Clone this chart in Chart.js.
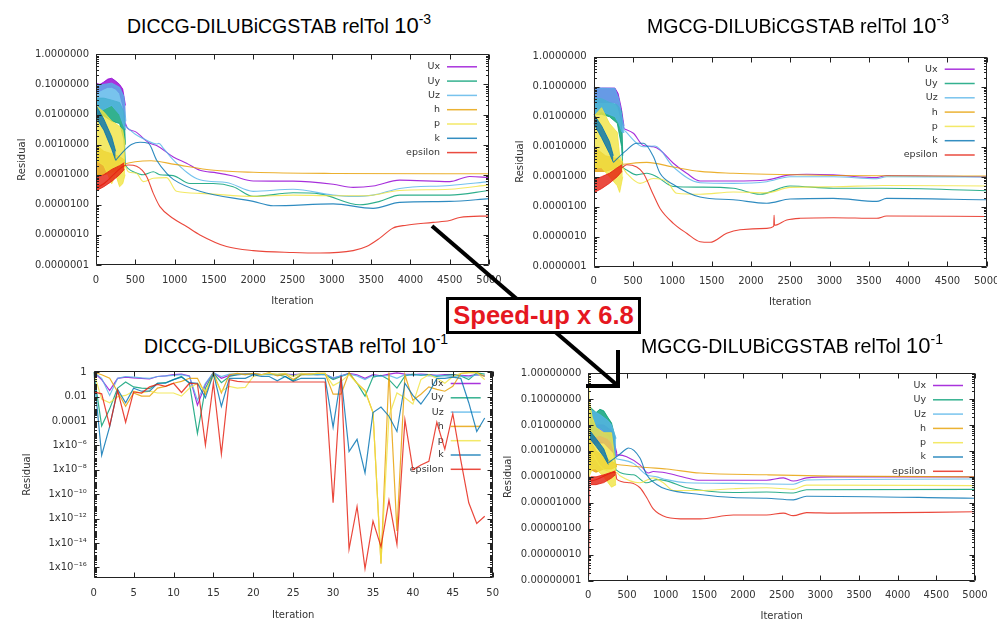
<!DOCTYPE html>
<html><head><meta charset="utf-8">
<script src="https://cdn.jsdelivr.net/npm/chart.js@4.4.1/dist/chart.umd.min.js"></script>
<style>
html,body{margin:0;padding:0;background:#fff;width:997px;height:621px;overflow:hidden;position:relative}
canvas{position:absolute}
.ttl{position:absolute;width:400px;text-align:center;font-family:"Liberation Sans",Arial,sans-serif;font-size:19.5px;line-height:24px;color:#000;white-space:nowrap}
.ttl .n{font-size:22px}
.ttl sup{font-size:14px;vertical-align:9px;line-height:0}
#arrow{position:absolute;left:0;top:0}
#box{position:absolute;left:446px;top:297px;width:195px;height:37px;box-sizing:border-box;border:3px solid #000;background:#fff;color:#e5171f;font:bold 25.6px "Liberation Sans",Arial,sans-serif;text-align:center;line-height:31px;white-space:nowrap}
</style></head><body>
<canvas id="cTL"></canvas>
<canvas id="cTR"></canvas>
<canvas id="cBL"></canvas>
<canvas id="cBR"></canvas>
<div class="ttl" style="left:79px;top:14px">DICCG-DILUBiCGSTAB relTol <span class="n">10<sup>-3</sup></span></div>
<div class="ttl" style="left:598px;top:14px">MGCG-DILUBiCGSTAB relTol <span class="n">10<sup>-3</sup></span></div>
<div class="ttl" style="left:96px;top:334px">DICCG-DILUBiCGSTAB relTol <span class="n">10<sup>-1</sup></span></div>
<div class="ttl" style="left:592px;top:334px">MGCG-DILUBiCGSTAB relTol <span class="n">10<sup>-1</sup></span></div>
<svg id="arrow" width="997" height="621">
<line x1="432" y1="226" x2="617" y2="385" stroke="#000" stroke-width="4"/>
<polyline points="586,386 618,386 618,350" fill="none" stroke="#000" stroke-width="4"/>
</svg>
<div id="box">Speed-up x 6.8</div>
<script>
// ---------- shared ----------
const seriesNames = ['Ux','Uy','Uz','h','p','k','epsilon'];
const seriesColors = ['#9400d3','#009e73','#56b4e9','#e69f00','#f0e442','#0072b2','#e51e10'];
const xTicks5000 = [0,500,1000,1500,2000,2500,3000,3500,4000,4500,5000];
const xTicks50 = [0,5,10,15,20,25,30,35,40,45,50];
const yTicks7 = [1e-7,1e-6,1e-5,1e-4,1e-3,1e-2,1e-1,1];
const yTicks8 = [1e-8,1e-7,1e-6,1e-5,1e-4,1e-3,1e-2,1e-1,1];
const blYTicks = [1e-16,1e-14,1e-12,1e-10,1e-8,1e-6,1e-4,1e-2,1];
const blYTickLabels = ['1x10\u207B\u00B9\u2076','1x10\u207B\u00B9\u2074','1x10\u207B\u00B9\u00B2','1x10\u207B\u00B9\u2070','1x10\u207B\u2078','1x10\u207B\u2076','0.0001','0.01','1'];

// ---------- top-left: DICCG relTol 1e-3 ([iter, value] and noisy bands [iter, low, high]) ----------
const tlUxBand = [[0,0.05,0.11],[50,0.06,0.1],[100,0.07,0.12],[150,0.08,0.15],[200,0.08,0.16],[250,0.07,0.13],[300,0.05,0.1],[340,0.02,0.07],[375,0.004,0.02]];
const tlUx = [[375,0.005],[400,0.0035],[500,0.0027],[644,0.0013],[686,0.0011],[771,0.00093],[983,0.00039],[1152,0.00024],[1322,0.00014],[1535,0.000115],[1745,0.00009],[2000,0.000062],[2508,0.000061],[3017,0.000048],[3271,0.000038],[3525,0.000042],[3864,0.000066],[4500,0.000059],[4754,0.000087],[5000,0.00008]];
const tlUyBand = [[0,0.008,0.035],[100,0.009,0.035],[200,0.006,0.03],[300,0.005,0.025],[355,0.0015,0.012],[375,0.0002,0.001]];
const tlUy = [[375,0.0002],[411,0.00016],[475,0.000126],[602,0.0001],[729,0.000126],[813,0.0001],[983,0.000093],[1195,0.000051],[1491,0.000051],[1745,0.00004],[2000,0.000019],[2508,0.000025],[2847,0.000023],[3356,0.00001],[3610,0.000013],[3864,0.000021],[4500,0.000021],[5000,0.00003]];
const tlUzBand = [[0,0.01,0.09],[100,0.015,0.1],[200,0.02,0.11],[300,0.01,0.08],[355,0.004,0.04],[380,0.003,0.006]];
const tlUz = [[380,0.004],[500,0.0022],[644,0.0014],[771,0.00105],[800,0.0011],[850,0.0008],[983,0.00031],[1322,0.000068],[1661,0.000055],[2000,0.000028],[2508,0.000033],[3017,0.000021],[3271,0.000019],[3525,0.000021],[3864,0.000035],[4500,0.000044],[5000,0.000059]];
const tlHBand = [[0,0.0001,0.001],[100,0.0001,0.0006],[200,0.00012,0.0005],[300,0.00015,0.0004],[370,0.0002,0.0003]];
const tlH = [[370,0.00023],[500,0.00027],[700,0.00029],[1000,0.00022],[1500,0.00014],[2000,0.00012],[3000,0.00011],[5000,0.000107]];
const tlPBand = [[0,0.0003,0.02],[100,0.0002,0.012],[200,0.00005,0.006],[250,0.0001,0.005],[300,0.00004,0.004],[340,0.00005,0.003],[370,0.0001,0.001]];
const tlP = [[370,0.0002],[411,0.000126],[517,0.00011],[602,0.000059],[729,0.000076],[898,0.00008],[1025,0.000028],[1322,0.000024],[2000,0.000019],[2508,0.000021],[3017,0.00002],[3441,0.00002],[3864,0.00003],[4500,0.000033],[5000,0.000046]];
const tlKBand = [[0,0.008,0.02],[100,0.003,0.007],[200,0.0007,0.0018],[250,0.0003,0.0006]];
const tlK = [[250,0.0003],[350,0.0006],[450,0.001],[560,0.0012],[666,0.0011],[772,0.0003],[900,0.00011],[983,0.00007],[1322,0.000028],[2000,0.000013],[2254,0.0000093],[3017,0.0000107],[3525,0.0000076],[3864,0.000012],[4500,0.000013],[5000,0.000016]];
const tlEpsBand = [[10,0.00003,0.00008],[100,0.00004,0.0001],[200,0.00006,0.00015],[300,0.0001,0.0002],[360,0.00015,0.00025]];
const tlEps = [[0,0.001],[10,0.00004],[360,0.0002],[411,0.00021],[517,0.00019],[644,0.000087],[729,0.000024],[813,0.0000087],[983,0.0000035],[1152,0.0000019],[1322,0.000001],[1661,0.00000041],[2000,0.0000003],[2508,0.00000026],[2847,0.00000025],[3271,0.0000003],[3441,0.00000041],[3610,0.00000078],[3780,0.0000017],[3949,0.0000021],[4288,0.0000026],[4500,0.000003],[4627,0.0000038],[5000,0.0000043]];

// ---------- top-right: MGCG relTol 1e-3 ----------
const trUxBand = [[0,0.03,0.09],[100,0.03,0.09],[270,0.03,0.09],[310,0.02,0.06],[350,0.008,0.02],[385,0.004,0.005]];
const trUx = [[385,0.004],[505,0.0028],[632,0.0011],[759,0.001],[844,0.00078],[1013,0.00028],[1183,0.00013],[1353,0.000072],[1777,0.000072],[2201,0.000078],[2498,0.000115],[2710,0.00012],[3049,0.000115],[3600,0.000093],[3727,0.00011],[5000,0.0001]];
const trUyBand = [[0,0.012,0.04],[100,0.012,0.04],[200,0.01,0.03],[300,0.006,0.025],[355,0.001,0.015],[370,0.0002,0.0005]];
const trUy = [[370,0.0002],[420,0.000166],[547,0.000115],[675,0.00013],[802,0.0001],[1013,0.000047],[1353,0.000045],[1777,0.000041],[2116,0.000026],[2498,0.000049],[3049,0.000041],[3685,0.000041],[5000,0.000034]];
const trUzBand = [[0,0.01,0.095],[100,0.015,0.09],[270,0.01,0.088],[320,0.006,0.04],[360,0.003,0.01],[390,0.003,0.004]];
const trUz = [[390,0.0035],[632,0.001],[780,0.00105],[1013,0.00021],[1353,0.000063],[1777,0.00006],[2201,0.000068],[2498,0.0001],[3049,0.0001],[3600,0.000085],[3727,0.0001],[5000,0.000098]];
const trHBand = [[0,0.00015,0.001],[150,0.00015,0.0005],[300,0.0002,0.0004],[370,0.00025,0.0003]];
const trH = [[370,0.00026],[675,0.0003],[1013,0.00021],[1353,0.00015],[1777,0.00013],[2201,0.00012],[3049,0.00011],[5000,0.000105]];
const trPBand = [[0,0.0002,0.01],[100,0.0002,0.02],[200,0.0001,0.006],[300,0.00005,0.003],[330,0.00003,0.0005],[370,0.0001,0.0003]];
const trP = [[370,0.0002],[420,0.00013],[590,0.00006],[759,0.000087],[929,0.00007],[1056,0.000028],[1353,0.000026],[1777,0.000031],[2201,0.000029],[2498,0.000044],[3049,0.000046],[3685,0.000051],[5000,0.000049]];
const trKBand = [[0,0.006,0.012],[100,0.002,0.005],[200,0.0006,0.0015],[250,0.0003,0.0005]];
const trK = [[250,0.0003],[400,0.0007],[547,0.0013],[632,0.0013],[759,0.00047],[844,0.00013],[1013,0.000055],[1353,0.000021],[1777,0.000017],[2201,0.000013],[2498,0.000018],[3049,0.000019],[3600,0.000015],[3727,0.000019],[5000,0.000017]];
const trEpsBand = [[10,0.00003,0.00008],[100,0.00004,0.0001],[200,0.00006,0.00013],[300,0.0001,0.0002],[360,0.00015,0.00025]];
const trEps = [[360,0.0002],[420,0.00025],[547,0.00021],[632,0.00013],[759,0.000025],[844,0.0000087],[1013,0.0000028],[1183,0.0000013],[1353,0.00000068],[1480,0.00000065],[1692,0.0000013],[1862,0.0000017],[2201,0.0000019],[2290,0.0000022],[2295,0.0000052],[2300,0.0000024],[2456,0.0000036],[2625,0.0000041],[3049,0.0000043],[3600,0.0000041],[3727,0.0000049],[5000,0.0000047]];

// ---------- bottom-left: DICCG relTol 1e-1 (50 iterations) ----------
const blIter = [0,1,2,3,4,5,6,7,8,9,10,11,12,13,14,15,16,17,18,19,20,21,22,23,24,25,26,27,28,29,30,31,32,33,34,35,36,37,38,39,40,41,42,43,44,45,46,47,48,49];
const blUx = [1,0.25,0.032,0.32,0.4,0.35,0.32,0.28,0.45,0.5,0.63,0.71,0.5,0.002,0.1,0.95,0.32,0.56,0.63,0.71,0.71,0.63,0.71,0.63,0.71,0.63,0.71,0.71,0.63,0.71,0.32,0.5,0.8,0.63,0.32,0.63,0.5,0.71,0.9,0.71,0.63,0.71,0.63,0.56,0.63,0.63,0.56,0.5,0.63,0.5];
const blUy = [1,4e-5,0.001,0.05,0.16,0.063,0.05,0.045,0.126,0.14,0.25,0.45,0.126,1e-5,0.05,0.9,0.14,0.45,0.63,0.71,0.71,0.63,0.63,0.63,0.45,0.2,0.63,0.63,0.63,0.63,0.25,0.45,0.8,0.126,0.011,0.4,0.56,0.25,0.05,0.5,0.71,0.56,0.63,0.45,0.56,0.63,0.5,0.25,0.9,0.71];
const blUz = [1,0.32,0.0126,0.32,0.45,0.4,0.35,0.32,0.45,0.5,0.56,0.63,0.45,0.005,0.126,0.9,0.45,0.71,0.71,0.63,0.71,0.63,0.71,0.63,0.71,0.56,0.71,0.63,0.71,0.63,0.35,0.5,0.71,0.5,0.25,0.56,0.45,0.56,0.32,0.63,0.56,0.63,0.5,0.56,0.5,0.45,0.5,0.4,0.63,0.5];
const blH = [1,0.63,0.32,0.025,0.0016,0.02,0.011,0.011,0.05,0.07,0.126,0.18,0.32,0.32,0.016,0.95,0.02,0.63,0.8,0.63,0.8,0.63,0.95,0.5,0.71,0.25,0.63,0.71,0.8,0.8,0.016,0.016,0.95,0.126,0.032,5e-4,2e-16,0.95,1e-13,0.63,0.005,0.016,0.063,0.04,0.028,0.07,0.8,0.95,0.95,0.45];
const blP = [1,0.0063,0.0032,0.01,0.0126,0.028,0.02,0.028,0.02,0.02,0.02,0.011,0.05,0.126,0.028,0.45,0.028,0.07,0.05,0.058,0.45,0.63,0.8,0.71,0.8,0.45,0.8,0.71,0.8,0.8,0.08,0.18,0.63,0.126,0.028,5e-4,2.5e-16,2.5e-4,0.02,0.008,0.0025,0.25,0.63,0.32,0.126,0.45,0.8,0.95,0.95,0.25];
const blK = [1,1.6e-7,3.5e-5,0.04,0.0032,0.05,0.028,0.028,0.126,0.126,0.25,0.4,0.14,0.126,0.008,0.8,0.0016,0.32,0.32,0.32,0.63,0.45,0.45,0.2,0.45,0.18,0.32,0.32,0.32,0.32,3.2e-5,0.45,3.2e-7,3.2e-6,5.6e-9,5e-4,0.0014,2.5e-4,1.4e-5,0.126,0.0126,0.0025,0.02,0.32,0.32,0.4,0.32,0.0032,1.4e-5,1.8e-4];
const blEps = [0.025,0.017,4e-5,0.032,8e-5,0.025,0.02,0.063,0.1,0.07,0.126,0.022,0.126,0.11,1.1e-6,0.14,2e-7,0.25,0.18,0.16,0.16,0.16,0.16,0.16,0.16,0.16,0.16,0.16,0.16,0.16,2e-11,0.5,3.2e-15,1e-11,8e-17,6.3e-13,5e-15,3.2e-11,8e-15,1.26e-4,1e-8,2.5e-8,5e-8,8e-5,5e-7,4e-4,6.3e-8,2e-11,4e-13,1.6e-12];

// ---------- bottom-right: MGCG relTol 1e-1 ----------
const brUxBand = [[20,0.002,0.02],[100,0.002,0.01],[200,0.002,0.01],[300,0.001,0.006],[370,0.0006,0.0008]];
const brUx = [[370,0.0007],[388,0.0007],[496,0.0006],[668,0.00029],[776,0.00014],[840,0.00016],[1013,0.00014],[1272,0.000091],[1444,0.000074],[1875,0.000074],[2306,0.000074],[2522,0.000091],[2651,0.000069],[2823,0.000091],[3168,0.0001],[5000,0.0001]];
const brUyBand = [[20,0.005,0.05],[100,0.006,0.03],[150,0.008,0.04],[200,0.006,0.035],[250,0.004,0.02],[300,0.003,0.012],[350,0.0003,0.003]];
const brUy = [[350,0.0003],[355,0.00019],[582,0.00012],[754,0.000059],[884,0.000078],[1013,0.00007],[1272,0.000038],[1875,0.000025],[2306,0.000026],[2651,0.000024],[2823,0.000032],[5000,0.000033]];
const brUzBand = [[20,0.003,0.04],[150,0.004,0.025],[250,0.003,0.015],[300,0.002,0.01],[360,0.0005,0.003]];
const brUz = [[360,0.0005],[582,0.00033],[754,0.00012],[884,0.0001],[1013,0.000078],[1272,0.000059],[1875,0.000056],[2651,0.000052],[2823,0.000076],[5000,0.000083]];
const brHBand = [[10,0.0002,0.003],[100,0.00015,0.001],[200,0.0002,0.0006],[300,0.0002,0.0004],[370,0.00025,0.0003]];
const brH = [[370,0.0003],[754,0.00023],[1013,0.0002],[1444,0.00014],[2306,0.00012],[3168,0.000107],[5000,0.0001]];
const brPBand = [[10,0.0001,0.1],[50,0.0002,0.02],[100,0.0002,0.008],[200,0.0001,0.005],[300,0.00004,0.005],[360,0.00005,0.0002]];
const brP = [[0,0.003],[8,0.9],[15,0.002],[360,0.00015],[409,0.00011],[668,0.000059],[840,0.000091],[970,0.000059],[1099,0.00003],[1444,0.00003],[1875,0.000035],[2306,0.000038],[2651,0.000033],[2823,0.000048],[5000,0.000046]];
const brKBand = [[20,0.003,0.006],[100,0.0015,0.003],[200,0.0006,0.0012],[259,0.0003,0.0004]];
const brK = [[259,0.00035],[367,0.0006],[496,0.0012],[517,0.0013],[668,0.00053],[754,0.00012],[884,0.000051],[1013,0.000033],[1444,0.000021],[1875,0.000016],[2306,0.000015],[2651,0.000013],[2823,0.000018],[5000,0.000015]];
const brEpsBand = [[30,0.00005,0.0001],[100,0.00005,0.0001],[200,0.00006,0.00012],[300,0.00009,0.00015],[350,0.00012,0.00017]];
const brEps = [[0,0.006],[6,0.000000015],[12,0.0001],[30,0.00007],[350,0.00015],[370,0.00008],[539,0.000059],[668,0.000038],[754,0.000016],[840,0.0000058],[1013,0.0000028],[1272,0.0000024],[1444,0.0000024],[1875,0.0000034],[2306,0.0000034],[2522,0.000004],[2651,0.0000032],[2823,0.0000042],[3168,0.000004],[5000,0.0000045]];

// ---------- helpers ----------
function rgba(hex, a){const n=parseInt(hex.slice(1),16);return `rgba(${n>>16&255},${n>>8&255},${n&255},${a})`;}
const TICK_FONT = {family:'"DejaVu Sans", sans-serif', size:10};
const TICK_COLOR = '#333';

function gnuplotPlugin(){
  return {
    id:'gp',
    beforeDatasetsDraw(chart){
      const ctx=chart.ctx, a=chart.chartArea;
      ctx.save();
      ctx.font='9.5px "DejaVu Sans", sans-serif';
      ctx.textAlign='right'; ctx.textBaseline='middle';
      seriesNames.forEach((nm,i)=>{
        const y=a.top+12.5+i*14.3;
        ctx.fillStyle='#333'; ctx.fillText(nm,a.right-49,y);
        ctx.strokeStyle=rgba(seriesColors[i],0.8); ctx.lineWidth=1.5;
        ctx.beginPath(); ctx.moveTo(a.right-42,y); ctx.lineTo(a.right-12,y); ctx.stroke();
      });
      ctx.restore();
    },
    afterDatasetsDraw(chart){
      const ctx=chart.ctx, a=chart.chartArea, xs=chart.scales.x, ys=chart.scales.y;
      const L=Math.round(a.left)+0.5, R=Math.round(a.right)-0.5, T=Math.round(a.top)+0.5, B=Math.round(a.bottom)-0.5;
      ctx.save();
      ctx.strokeStyle='#222'; ctx.lineWidth=1;
      ctx.beginPath(); ctx.rect(L,T,R-L,B-T); ctx.stroke();
      ctx.beginPath();
      xs.ticks.forEach(t=>{const p=Math.round(xs.getPixelForValue(t.value))+0.5;
        ctx.moveTo(p,B); ctx.lineTo(p,B-5); ctx.moveTo(p,T); ctx.lineTo(p,T+5);});
      ys.ticks.forEach(t=>{const p=Math.round(ys.getPixelForValue(t.value))+0.5;
        ctx.moveTo(L,p); ctx.lineTo(L+5,p); ctx.moveTo(R,p); ctx.lineTo(R-5,p);});
      const lo=Math.floor(Math.log10(ys.min)), hi=Math.ceil(Math.log10(ys.max));
      for(let d=lo; d<=hi; d++){
        for(let m=1;m<=9;m++){
          const v=m*Math.pow(10,d);
          if(v<ys.min||v>ys.max) continue;
          const p=Math.round(ys.getPixelForValue(v))+0.5;
          ctx.moveTo(L,p); ctx.lineTo(L+2.5,p); ctx.moveTo(R,p); ctx.lineTo(R-2.5,p);
        }
      }
      ctx.stroke();
      ctx.restore();
    }
  };
}

function makeChart(id, rect, plot, cfg){
  const cv=document.getElementById(id);
  cv.width=rect.w; cv.height=rect.h;
  cv.style.left=rect.x+'px'; cv.style.top=rect.y+'px';
  const yW=plot.l-rect.x, xH=rect.y+rect.h-plot.b;
  const padTop=plot.t-rect.y, padRight=rect.x+rect.w-plot.r;
  const datasets=[];
  cfg.series.forEach((s,si)=>{
    const color=seriesColors[si], order=10-si;
    if(s.band){
      const lowIdx=datasets.length;
      datasets.push({label:seriesNames[si]+'-lo',data:s.band.map(p=>({x:p[0],y:p[1]})),borderColor:rgba(color,0.8),borderWidth:1,pointRadius:0,fill:false,tension:0,order});
      datasets.push({label:seriesNames[si]+'-hi',data:s.band.map(p=>({x:p[0],y:p[2]})),borderColor:rgba(color,0.8),borderWidth:1,pointRadius:0,fill:lowIdx,backgroundColor:rgba(color,0.8),tension:0,order});
    }
    datasets.push({label:seriesNames[si],data:s.line,borderColor:rgba(color,0.82),borderWidth:cfg.lw,pointRadius:0,fill:false,tension:0,
      cubicInterpolationMode:cfg.smooth?'monotone':'default',order});
  });
  new Chart(cv,{
    type:'line',
    data:{datasets},
    options:{
      responsive:false, animation:false, events:[],
      layout:{padding:{left:0,top:padTop,right:padRight,bottom:0}},
      plugins:{legend:{display:false},tooltip:{enabled:false},title:{display:false}},
      scales:{
        x:{type:'linear',min:cfg.xMin,max:cfg.xMax,
          afterBuildTicks:s=>{s.ticks=cfg.xTicks.map(v=>({value:v}));},
          ticks:{font:TICK_FONT,color:TICK_COLOR,padding:9,maxRotation:0,minRotation:0,autoSkip:false,callback:v=>String(v)},
          grid:{display:false,drawTicks:false},border:{display:false},
          title:{display:true,text:'Iteration',font:TICK_FONT,color:TICK_COLOR,padding:{top:0,bottom:rect.y+rect.h-cfg.iterY-6}},
          afterFit:s=>{s.height=xH;}},
        y:{type:'logarithmic',min:cfg.yMin,max:cfg.yMax,
          afterBuildTicks:s=>{s.ticks=cfg.yTicks.map(v=>({value:v}));},
          ticks:{font:TICK_FONT,color:TICK_COLOR,padding:7,autoSkip:false,callback:cfg.yLabel},
          grid:{display:false,drawTicks:false},border:{display:false},
          title:{display:true,text:'Residual',font:TICK_FONT,color:TICK_COLOR,padding:{top:cfg.resX-rect.x-6,bottom:0}},
          afterFit:s=>{s.width=yW;}}
      }
    },
    plugins:[gnuplotPlugin()]
  });
}
const toXY = arr => arr.map(p=>({x:p[0],y:p[1]}));
const fix7 = v => Number(v).toFixed(7);
const fix8 = v => Number(v).toFixed(8);

makeChart('cTL',{x:0,y:40,w:525,h:275},{l:96,t:54.3,r:489,b:265},{
  xMin:0,xMax:5000,xTicks:xTicks5000,yMin:1e-7,yMax:1,yTicks:yTicks7,yLabel:fix7,resX:22.5,iterY:301,smooth:true,lw:1.1,
  series:[{line:toXY(tlUx),band:tlUxBand},{line:toXY(tlUy),band:tlUyBand},{line:toXY(tlUz),band:tlUzBand},{line:toXY(tlH),band:tlHBand},
          {line:toXY(tlP),band:tlPBand},{line:toXY(tlK),band:tlKBand},{line:toXY(tlEps),band:tlEpsBand}]
});
makeChart('cTR',{x:505,y:40,w:520,h:277},{l:593.7,t:56.7,r:986.7,b:266.7},{
  xMin:0,xMax:5000,xTicks:xTicks5000,yMin:1e-7,yMax:1,yTicks:yTicks7,yLabel:fix7,resX:520.5,iterY:302.7,smooth:true,lw:1.1,
  series:[{line:toXY(trUx),band:trUxBand},{line:toXY(trUy),band:trUyBand},{line:toXY(trUz),band:trUzBand},{line:toXY(trH),band:trHBand},
          {line:toXY(trP),band:trPBand},{line:toXY(trK),band:trKBand},{line:toXY(trEps),band:trEpsBand}]
});
const blXY = vals => blIter.map((x,i)=>({x,y:vals[i]}));
makeChart('cBL',{x:0,y:358,w:515,h:266},{l:93.7,t:367.7,r:492.7,b:578.3},{
  xMin:0,xMax:50,xTicks:xTicks50,yMin:1.3e-17,yMax:1.27,yTicks:blYTicks,yLabel:(v,i)=>blYTickLabels[i],resX:27.2,iterY:615,smooth:false,lw:1.2,
  series:[{line:blXY(blUx)},{line:blXY(blUy)},{line:blXY(blUz)},{line:blXY(blH)},{line:blXY(blP)},{line:blXY(blK)},{line:blXY(blEps)}]
});
makeChart('cBR',{x:500,y:360,w:497,h:266},{l:588.3,t:370.7,r:975,b:580.7},{
  xMin:0,xMax:5000,xTicks:xTicks5000,yMin:1e-8,yMax:1,yTicks:yTicks8,yLabel:fix8,resX:508.7,iterY:616.7,smooth:true,lw:1.1,
  series:[{line:toXY(brUx),band:brUxBand},{line:toXY(brUy),band:brUyBand},{line:toXY(brUz),band:brUzBand},{line:toXY(brH),band:brHBand},
          {line:toXY(brP),band:brPBand},{line:toXY(brK),band:brKBand},{line:toXY(brEps),band:brEpsBand}]
});
</script>
</body></html>
